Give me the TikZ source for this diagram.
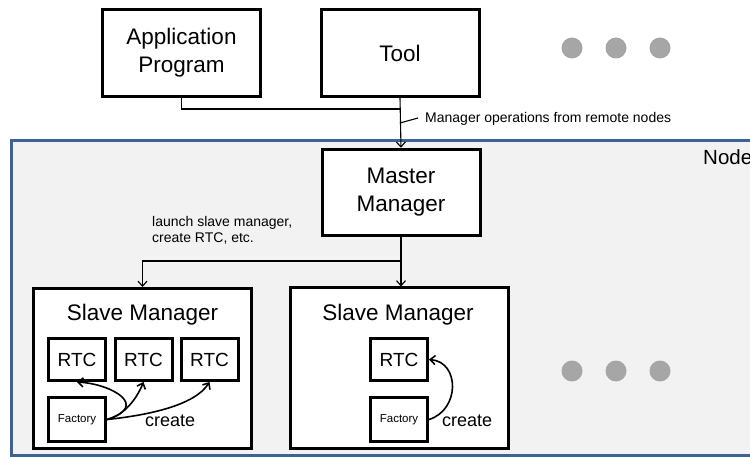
\documentclass[tikz,border=0pt]{standalone}
\usepackage{fontspec}
\setmainfont{Liberation Sans}
\usetikzlibrary{arrows.meta,positioning}
\definecolor{nodeblue}{HTML}{3B6495}
\definecolor{nodefill}{HTML}{F2F2F2}
\definecolor{dotgray}{HTML}{A6A6A6}

\begin{document}
\begin{tikzpicture}[x=1pt, y=-1pt, >={Straight Barb[length=5pt,width=9pt]},
  box/.style={draw, line width=3pt, fill=white, inner sep=0pt, align=center, minimum width=158pt, minimum height=86.5pt, font=\fontsize{22.5}{28}\selectfont},
  manager box/.style={draw, line width=3pt, fill=white, minimum width=218pt, minimum height=160pt},
  rtc/.style={draw, line width=3pt, fill=white, inner sep=0pt, minimum width=57pt, minimum height=42pt, font=\fontsize{19}{22}\selectfont},
  factory/.style={rtc, minimum height=44pt, font=\fontsize{11.5}{13}\selectfont},
  title/.style={anchor=base, inner sep=0pt, font=\fontsize{22.5}{26}\selectfont},
  note/.style={anchor=base west, inner sep=0pt, font=\fontsize{14}{16}\selectfont},
  create label/.style={anchor=base west, inner sep=0pt, font=\fontsize{18}{20}\selectfont},
  dot/.style={circle, fill=dotgray, minimum size=21pt, inner sep=0pt},
  link/.style={line width=1.1pt},
  create/.style={->, line width=1.6pt}]
\useasboundingbox (0,0) rectangle (750,457);
\clip (0,0) rectangle (750,457);
\draw[line width=3pt, draw=nodeblue, fill=nodefill] (11,141) rectangle (765,455.5);
\node[anchor=base west, inner sep=0pt, font=\fontsize{20.5}{24}\selectfont] (nodelabel) at (703,165) {Node};

\node[box] (app) at (181.5,53) {Application\\Program};
\node[box] (tool) at (400,53) {Tool};
\node[box] (master) at (401,192.5) {Master\\Manager};
\foreach \x in {572,616,660} {
  \node[dot] at (\x,48) {};
  \node[dot] at (\x,371) {};
}

\node[manager box] (slave1) at (142.5,368.5) {};
\node[title] (title1) at (142.5,320) {Slave Manager};
\node[rtc] (rtc1) at (77,359.5) {RTC};
\node[rtc] (rtc2) at (143.5,359.5) {RTC};
\node[rtc] (rtc3) at (209.5,359.5) {RTC};
\node[factory] (fac1) at (77,419.5) {Factory};

\node[manager box] (slave2) at (399.5,368) {};
\node[title] (title2) at (398,320) {Slave Manager};
\node[rtc] (rtc4) at (399,359.5) {RTC};
\node[factory] (fac2) at (399,419.5) {Factory};

\coordinate (join) at (400,109);
\draw[link] (app.south) |- (join);
\draw[link,->] (tool.south) -- (master.north);
\coordinate (tick) at (400,123);
\coordinate (tickend) at (418,118);
\draw[link] (tick) -- (tickend);
\node[note] (remote) at (425,123) {Manager operations from remote nodes};

\coordinate (split) at (401,261);
\draw[link] (master.south) -- (split);
\draw[link,->] (split) -| (slave1.north);
\draw[link,->] (split) -- (split |- slave2.north);
\node[note, anchor=west, align=left] (launch) at (152,230) {launch slave manager,\\create RTC, etc.};

\draw[create] (fac1.east) .. controls (150,406) and (112,384) .. (rtc1.south);
\draw[create] (fac1.east) .. controls (125,415) and (137,398) .. (rtc2.south);
\draw[create] (fac1.east) .. controls (150,415) and (195,405) .. (rtc3.south);
\node[create label] (create1) at (145,426) {create};
\draw[create] (fac2.east) .. controls (460,410) and (460,362) .. (rtc4.east);
\node[create label] (create2) at (442,426) {create};
\end{tikzpicture}
\end{document}
